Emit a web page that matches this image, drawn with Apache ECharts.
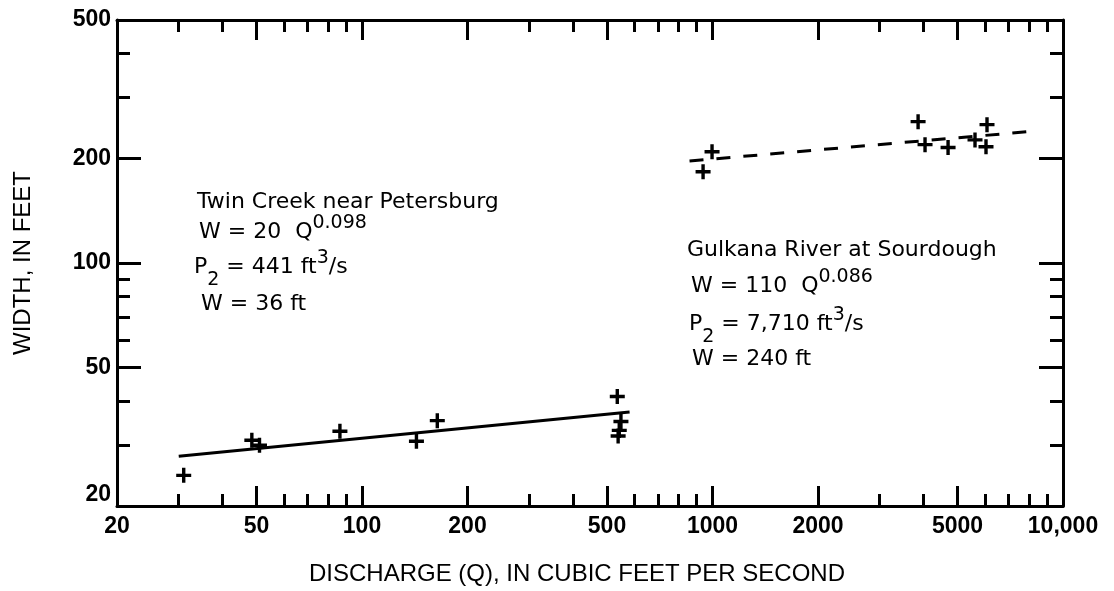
<!DOCTYPE html>
<html>
<head>
<meta charset="utf-8">
<title>Width versus discharge</title>
<script src="https://cdn.jsdelivr.net/npm/echarts@6/dist/echarts.min.js"></script>
<style>
  html, body { margin: 0; padding: 0; background: #fff; }
  #chart { width: 1114px; height: 591px; }
</style>
</head>
<body>
<div id="chart"></div>
<script>
// Twin Creek near Petersburg: measured discharge (ft3/s) and width (ft)
const twinQ = [31, 48.5, 51, 86.5, 143, 164, 535, 548, 542, 538];
const twinW = [24.5, 30.9, 29.9, 32.8, 30.7, 35.2, 41.3, 35.0, 33.0, 31.8];
// Fitted relation W = 20 Q^0.098, end points
const twinFitQ = [30, 580];
const twinFitW = [27.8, 37.3];

// Gulkana River at Sourdough
const gulQ = [940, 997, 3860, 4040, 4700, 5610, 6070, 6030];
const gulW = [183, 209, 255, 219, 215, 226, 250, 216];
// Fitted relation W = 110 Q^0.086, end points
const gulFitQ = [860, 7900];
const gulFitW = [196.5, 238.5];

// Axis ticks and labels
const xLabelValues = [20, 50, 100, 200, 500, 1000, 2000, 5000, 10000];
const xLabelText = ['20', '50', '100', '200', '500', '1000', '2000', '5000', '10,000'];
const xMajorTicks = [50, 100, 200, 500, 1000, 2000, 5000];
const xMinorTicks = [30, 40, 60, 70, 80, 90, 300, 400, 600, 700, 800, 900,
                     3000, 4000, 6000, 7000, 8000, 9000];
const yLabelValues = [20, 50, 100, 200, 500];
const yLabelText = ['20', '50', '100', '200', '500'];
const yMajorTicks = [50, 100, 200];
const yMinorTicks = [30, 40, 60, 70, 80, 90, 300, 400];

const FONT = 'Liberation Sans';
const NOTE_FONT = 'DejaVu Sans';
const INK = '#000';

function nearestText(values, texts, v) {
  let best = 0;
  for (let i = 1; i < values.length; i++) {
    if (Math.abs(Math.log(values[i] / v)) < Math.abs(Math.log(values[best] / v))) best = i;
  }
  return texts[best];
}

function pairs(xs, ys) { return xs.map((x, i) => [x, ys[i]]); }

function xAxisDef(position, ticks, len, withLine, withLabels) {
  return {
    type: 'log', logBase: 10, min: 20, max: 10000, position: position,
    splitLine: { show: false },
    axisLine: { show: withLine, lineStyle: { color: INK, width: 3 } },
    axisTick: { show: true, inside: true, length: len, customValues: ticks,
                lineStyle: { color: INK, width: 3 } },
    axisLabel: withLabels ? {
      show: true, customValues: xLabelValues, margin: 9,
      color: INK, fontFamily: FONT, fontSize: 23, fontWeight: 'bold',
      formatter: v => nearestText(xLabelValues, xLabelText, v)
    } : { show: false }
  };
}

function yAxisDef(position, ticks, len, withLine, withLabels) {
  return {
    type: 'log', logBase: 10, min: 20, max: 500, position: position,
    splitLine: { show: false },
    axisLine: { show: withLine, lineStyle: { color: INK, width: 3 } },
    axisTick: { show: true, inside: true, length: len, customValues: ticks,
                lineStyle: { color: INK, width: 3 } },
    axisLabel: withLabels ? {
      show: true, customValues: yLabelValues, margin: 6,
      color: INK, fontFamily: FONT, fontSize: 23, fontWeight: 'bold',
      verticalAlignMinLabel: 'bottom',
      formatter: v => nearestText(yLabelValues, yLabelText, v)
    } : { show: false }
  };
}

const xAxes = [
  xAxisDef('bottom', xMajorTicks, 20, true, true),
  xAxisDef('bottom', xMinorTicks, 12, false, false),
  xAxisDef('top', xMajorTicks, 20, true, false),
  xAxisDef('top', xMinorTicks, 12, false, false)
];
Object.assign(xAxes[0], {
  name: 'DISCHARGE (Q), IN CUBIC FEET PER SECOND',
  nameLocation: 'middle', nameGap: 56,
  nameTextStyle: { color: INK, fontFamily: FONT, fontSize: 24, padding: [0, 26, 0, 0] }
});

const yAxes = [
  yAxisDef('left', yMajorTicks, 24, true, true),
  yAxisDef('left', yMinorTicks, 13, false, false),
  yAxisDef('right', yMajorTicks, 24, true, false),
  yAxisDef('right', yMinorTicks, 13, false, false)
];
Object.assign(yAxes[0], {
  name: 'WIDTH, IN FEET',
  nameLocation: 'middle', nameGap: 82,
  nameTextStyle: { color: INK, fontFamily: FONT, fontSize: 24 }
});

// Plus-shaped marker
const PLUS = 'path://M5.8,0h3.4v5.8h5.8v3.4h-5.8v5.8h-3.4v-5.8h-5.8v-3.4h5.8z';

// Annotation lines: rich text with superscripts and subscripts
const rich = {
  b: { fontFamily: NOTE_FONT, fontSize: 22, color: INK, verticalAlign: 'top', padding: [10, 0, 0, 0] },
  sup: { fontFamily: NOTE_FONT, fontSize: 19, color: INK, verticalAlign: 'top', padding: [3, 0, 0, 0] },
  sub: { fontFamily: NOTE_FONT, fontSize: 19, color: INK, verticalAlign: 'top', padding: [25, 0, 0, 0] }
};
function note(x, yCenter, text) {
  return {
    type: 'text', x: x, y: yCenter - 21, silent: true,
    style: { x: 0, y: 0, text: text, rich: rich, verticalAlign: 'top', align: 'left' }
  };
}

const chart = echarts.init(document.getElementById('chart'), null, { renderer: 'canvas' });
chart.setOption({
  backgroundColor: '#fff',
  animation: false,
  grid: { left: 117, right: 51, top: 20, bottom: 83, containLabel: false },
  xAxis: xAxes,
  yAxis: yAxes,
  series: [
    {
      type: 'line', xAxisIndex: 0, yAxisIndex: 0,
      data: pairs(twinFitQ, twinFitW), symbol: 'none',
      lineStyle: { color: INK, width: 3 }
    },
    {
      type: 'line', xAxisIndex: 0, yAxisIndex: 0,
      data: pairs(gulFitQ, gulFitW), symbol: 'none',
      lineStyle: { color: INK, width: 3, type: [14, 13] }
    },
    {
      type: 'scatter', xAxisIndex: 0, yAxisIndex: 0,
      data: pairs(twinQ, twinW), symbol: PLUS, symbolSize: [15, 15],
      itemStyle: { color: INK, opacity: 1 }
    },
    {
      type: 'scatter', xAxisIndex: 0, yAxisIndex: 0,
      data: pairs(gulQ, gulW), symbol: PLUS, symbolSize: [15, 15],
      itemStyle: { color: INK, opacity: 1 }
    }
  ],
  graphic: [
    note(197, 202, '{b|Twin Creek near Petersburg}'),
    note(199, 232, '{b|W = 20  Q}{sup|0.098}'),
    note(194, 267, '{b|P}{sub|2}{b| = 441 ft}{sup|3}{b|/s}'),
    note(201, 304, '{b|W = 36 ft}'),
    note(687, 250, '{b|Gulkana River at Sourdough}'),
    note(691, 286, '{b|W = 110  Q}{sup|0.086}'),
    note(689, 324, '{b|P}{sub|2}{b| = 7,710 ft}{sup|3}{b|/s}'),
    note(692, 359, '{b|W = 240 ft}')
  ]
});
</script>
</body>
</html>
